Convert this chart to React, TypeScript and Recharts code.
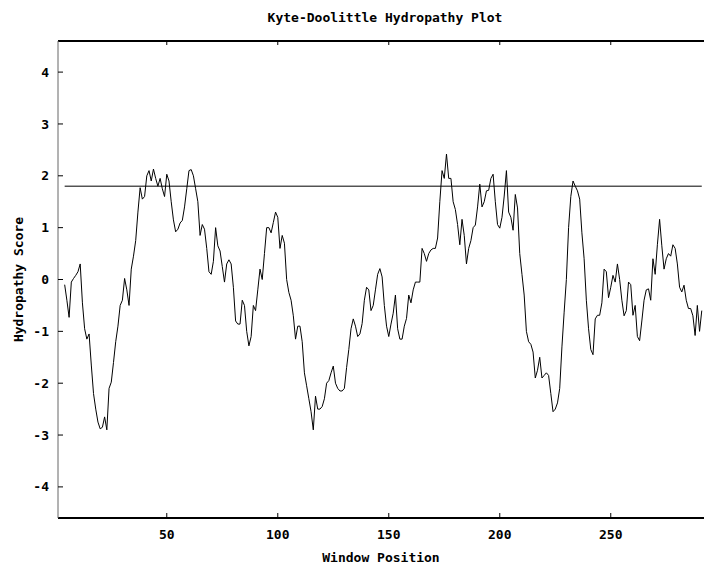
import { LineChart, Line, XAxis, YAxis, ReferenceLine } from 'recharts'

const title = 'Kyte-Doolittle Hydropathy Plot'
const firstWindow = 4
// hydropathy score per window position, starting at position 4
const scores = [
  -0.1, -0.4, -0.73, -0.05, 0.02, 0.08, 0.15, 0.3, -0.45, -0.95,
  -1.15, -1.05, -1.65, -2.2, -2.5, -2.75, -2.88, -2.85, -2.65, -2.9,
  -2.1, -1.98, -1.6, -1.2, -0.9, -0.5, -0.4, 0.02, -0.2, -0.5,
  0.2, 0.45, 0.75, 1.3, 1.77, 1.55, 1.6, 2.0, 2.1, 1.9,
  2.13, 1.95, 1.8, 1.95, 1.75, 1.6, 2.03, 1.9, 1.5, 1.15,
  0.92, 0.97, 1.09, 1.14, 1.4, 1.75, 2.1, 2.12, 2.0, 1.75,
  1.5, 0.85, 1.06, 0.97, 0.6, 0.15, 0.1, 0.35, 1.0, 0.65,
  0.55, 0.25, -0.05, 0.3, 0.38, 0.3, -0.15, -0.8, -0.86, -0.86,
  -0.4, -0.5, -1.0, -1.28, -1.1, -0.5, -0.6, -0.2, 0.2, 0.0,
  0.5, 1.0, 1.0, 0.9, 1.1, 1.3, 1.2, 0.6, 0.85, 0.7,
  0.0, -0.25, -0.4, -0.7, -1.15, -0.9, -0.9, -1.2, -1.8, -2.05,
  -2.3, -2.55, -2.9, -2.25, -2.5, -2.5, -2.45, -2.3, -2.0, -1.95,
  -1.8, -1.67, -2.0, -2.1, -2.15, -2.15, -2.1, -1.7, -1.35, -0.95,
  -0.76, -0.9, -1.1, -1.05, -0.85, -0.4, -0.15, -0.2, -0.6, -0.5,
  -0.2, 0.1, 0.21, 0.05, -0.5, -0.9, -1.1, -0.86, -0.65, -0.3,
  -0.95, -1.15, -1.15, -0.9, -0.75, -0.3, -0.45, -0.2, -0.05, -0.05,
  -0.05, 0.6, 0.5, 0.35, 0.5, 0.57, 0.6, 0.6, 0.8, 1.5,
  2.1, 1.95, 2.42, 1.95, 1.95, 1.5, 1.35, 1.06, 0.67, 1.16,
  0.85, 0.3, 0.6, 0.75, 1.0, 1.05, 1.4, 1.84, 1.4, 1.5,
  1.71, 1.72, 1.95, 2.03, 1.5, 1.06, 0.99, 1.2, 1.61, 2.1,
  1.3, 1.2, 0.95, 1.64, 1.38, 0.5, 0.1, -0.3, -1.0, -1.2,
  -1.25, -1.4, -1.9, -1.75, -1.5, -1.9, -1.85, -1.8, -1.85, -2.2,
  -2.55, -2.5, -2.38, -2.1, -1.3, -0.63, 0.0, 1.0, 1.6, 1.9,
  1.8, 1.71, 1.55, 0.9, 0.4, -0.4, -0.95, -1.35, -1.45, -0.76,
  -0.69, -0.69, -0.45, 0.2, 0.15, -0.35, -0.15, 0.08, -0.05, 0.3,
  0.0, -0.4, -0.7, -0.6, -0.05, -0.1, -0.69, -0.5, -1.1, -1.18,
  -0.8, -0.4, -0.2, -0.18, -0.4, 0.4, 0.1, 0.67, 1.16, 0.65,
  0.2, 0.4, 0.5, 0.45, 0.67, 0.6, 0.3, -0.15, -0.24, -0.11,
  -0.4, -0.56, -0.56, -0.7, -1.08, -0.5, -1.0, -0.6,
]
const threshold = 1.8
const xTicks = [50, 100, 150, 200, 250]
const yTicks = [-4, -3, -2, -1, 0, 1, 2, 3, 4]
const xDomain = [1, 292]
const yDomain = [-4.6, 4.6]

const data = scores.map((score, i) => ({ pos: firstWindow + i, score }))
const lastWindow = firstWindow + scores.length - 1

const font = '"DejaVu Sans Mono", "Liberation Mono", monospace'
const fontSize = 13

// ticks point inward, labels sit outside
const BottomTick = (props: any) => {
  const { x, y, payload } = props
  return (
    <g>
      <line x1={x} y1={y} x2={x} y2={y - 5} stroke="#000" />
      <text x={x} y={y + 16} dy="0.35em" textAnchor="middle" fontFamily={font} fontSize={fontSize} fontWeight="bold" fill="#000">
        {payload.value}
      </text>
    </g>
  )
}

const TopTick = (props: any) => {
  const { x, y } = props
  return <line x1={x} y1={y} x2={x} y2={y + 4} stroke="#000" />
}

const LeftTick = (props: any) => {
  const { x, y, payload } = props
  return (
    <g>
      <line x1={x} y1={y} x2={x + 5} y2={y} stroke="#000" />
      <text x={x - 9} y={y} dy="0.35em" textAnchor="end" fontFamily={font} fontSize={fontSize} fontWeight="bold" fill="#000">
        {payload.value}
      </text>
    </g>
  )
}

const YLabel = (props: any) => {
  const { viewBox } = props
  const cy = viewBox.y + viewBox.height / 2
  return (
    <text x={18} y={cy} dy="0.35em" transform={`rotate(-90, 18, ${cy})`} textAnchor="middle" fontFamily={font} fontSize={fontSize} fontWeight="bold" fill="#000">
      Hydropathy Score
    </text>
  )
}

export default function App() {
  return (
    <div style={{ position: 'absolute', left: 0, top: 0, width: 704, height: 565, background: '#fff' }}>
      <div
        style={{
          position: 'absolute', left: 0, top: 10, width: 770, textAlign: 'center',
          fontFamily: font, fontSize, fontWeight: 'bold', lineHeight: '16px', color: '#000',
        }}
      >
        {title}
      </div>
      <LineChart width={704} height={565} data={data} margin={{ top: 40, right: 0, bottom: 0, left: 0 }}>
        <XAxis
          xAxisId="top"
          orientation="top"
          type="number"
          dataKey="pos"
          domain={xDomain}
          ticks={xTicks}
          allowDataOverflow
          height={1}
          tickSize={0}
          tickMargin={0}
          tickLine={false}
          tick={(p: any) => <TopTick {...p} />}
          axisLine={{ stroke: '#000', strokeWidth: 2 }}
        />
        <XAxis
          xAxisId="b"
          type="number"
          dataKey="pos"
          domain={xDomain}
          ticks={xTicks}
          allowDataOverflow
          height={47}
          tickSize={0}
          tickMargin={0}
          tickLine={false}
          tick={(p: any) => <BottomTick {...p} />}
          axisLine={{ stroke: '#000', strokeWidth: 2 }}
          label={{ value: 'Window Position', position: 'insideBottom', offset: 3, fontFamily: font, fontSize, fontWeight: 'bold', fill: '#000' }}
        />
        <YAxis
          type="number"
          domain={yDomain}
          ticks={yTicks}
          allowDataOverflow
          width={58}
          tickSize={0}
          tickMargin={0}
          tickLine={false}
          tick={(p: any) => <LeftTick {...p} />}
          axisLine={{ stroke: '#666', strokeWidth: 1 }}
          label={{ content: (p: any) => <YLabel {...p} /> }}
        />
        <ReferenceLine
          xAxisId="b"
          segment={[{ x: firstWindow, y: threshold }, { x: lastWindow, y: threshold }]}
          stroke="#000"
          strokeWidth={1}
        />
        <Line
          xAxisId="b"
          type="linear"
          dataKey="score"
          stroke="#000"
          strokeWidth={1}
          dot={false}
          isAnimationActive={false}
        />
      </LineChart>
    </div>
  )
}
